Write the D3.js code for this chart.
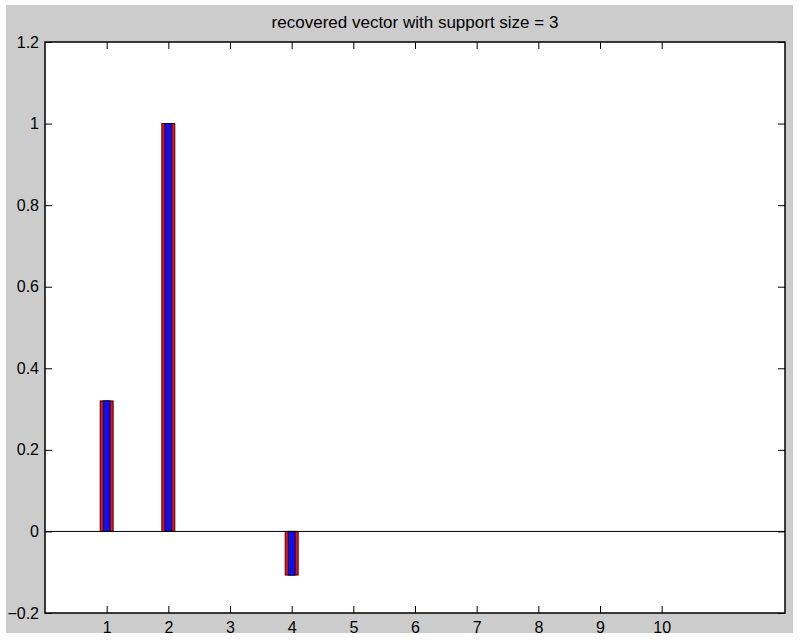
<!DOCTYPE html>
<html>
<head>
<meta charset="utf-8">
<script src="https://cdn.jsdelivr.net/npm/d3@7"></script>
<style>
  body { margin: 0; background: #fff; }
  svg text { font-family: "Liberation Sans", Arial, sans-serif; fill: #000; }
</style>
</head>
<body>
<div id="chart"></div>
<script>
// values
const indices = [1, 2, 3, 4, 5, 6, 7, 8, 9, 10];
const originalVals = [0.32, 1.0, 0, -0.107, 0, 0, 0, 0, 0, 0];
const recoveredVals = [0.32, 1.0, 0, -0.107, 0, 0, 0, 0, 0, 0];
const xTicks = [1, 2, 3, 4, 5, 6, 7, 8, 9, 10];
const yTicks = [-0.2, 0, 0.2, 0.4, 0.6, 0.8, 1, 1.2];
const titleText = "recovered vector with support size = 3";

const W = 801, H = 643;
const margin = {left: 45, top: 42, right: 16, bottom: 30};
const plotW = W - margin.left - margin.right,
      plotH = H - margin.top - margin.bottom;
const fontSize = 16;

const svg = d3.select("#chart").append("svg")
    .attr("width", W)
    .attr("height", H);

// gray figure background
svg.append("rect")
    .attr("x", 6).attr("y", 5)
    .attr("width", 787).attr("height", 628)
    .attr("fill", "#cccccc");

const g = svg.append("g")
    .attr("transform", `translate(${margin.left},${margin.top})`);

g.append("rect")
    .attr("width", plotW).attr("height", plotH)
    .attr("fill", "#fff");

const x = d3.scaleLinear().domain([0, 12]).range([0, plotW]);
const y = d3.scaleLinear().domain([-0.2, 1.2]).range([plotH, 0]);

const redW = x(0.21) - x(0);
const blueW = x(0.11) - x(0);

// wide red bars (original), narrow blue bars (recovered) on top
g.append("g")
    .selectAll("rect")
    .data(indices)
    .enter().append("rect")
        .attr("x", (d, i) => x(d) - redW / 2)
        .attr("y", (d, i) => y(Math.max(0, originalVals[i])))
        .attr("width", redW)
        .attr("height", (d, i) => Math.abs(y(originalVals[i]) - y(0)))
        .attr("fill", "#ee1111")
        .attr("stroke", "#4a0000")
        .attr("stroke-width", 1);

g.append("g")
    .selectAll("rect")
    .data(indices)
    .enter().append("rect")
        .attr("x", (d, i) => x(d) - blueW / 2)
        .attr("y", (d, i) => y(Math.max(0, recoveredVals[i])))
        .attr("width", blueW)
        .attr("height", (d, i) => Math.abs(y(recoveredVals[i]) - y(0)))
        .attr("fill", "#1010ee")
        .attr("stroke", "#00004a")
        .attr("stroke-width", 1);

// baseline at zero
g.append("line")
    .attr("x1", 0).attr("x2", plotW)
    .attr("y1", y(0)).attr("y2", y(0))
    .attr("stroke", "#000");

// axes with inward ticks, mirrored on top/right
const tickLen = 7;
const axisStyle = sel => {
    sel.select(".domain").remove();
    sel.selectAll("line").attr("stroke", "#000");
    sel.selectAll("text").attr("font-size", fontSize);
};

g.append("g")
    .attr("transform", `translate(0,${plotH})`)
    .call(d3.axisBottom(x).tickValues(xTicks).tickFormat(d3.format("d"))
        .tickSizeInner(-tickLen).tickSizeOuter(0).tickPadding(9))
    .call(axisStyle);

g.append("g")
    .call(d3.axisTop(x).tickValues(xTicks).tickFormat("")
        .tickSizeInner(-tickLen).tickSizeOuter(0))
    .call(axisStyle);

g.append("g")
    .call(d3.axisLeft(y).tickValues(yTicks)
        .tickFormat(d => d === 0 ? "0" : d3.format("")(d).replace("-", "\u2212"))
        .tickSizeInner(-tickLen).tickSizeOuter(0).tickPadding(6))
    .call(axisStyle);

g.append("g")
    .attr("transform", `translate(${plotW},0)`)
    .call(d3.axisRight(y).tickValues(yTicks).tickFormat("")
        .tickSizeInner(-tickLen).tickSizeOuter(0))
    .call(axisStyle);

// axes box
g.append("rect")
    .attr("width", plotW).attr("height", plotH)
    .attr("fill", "none")
    .attr("stroke", "#000")
    .attr("stroke-width", 1.5);

svg.append("text")
    .attr("x", margin.left + plotW / 2)
    .attr("y", 28)
    .attr("text-anchor", "middle")
    .attr("font-size", 17)
    .text(titleText);
</script>
</body>
</html>
